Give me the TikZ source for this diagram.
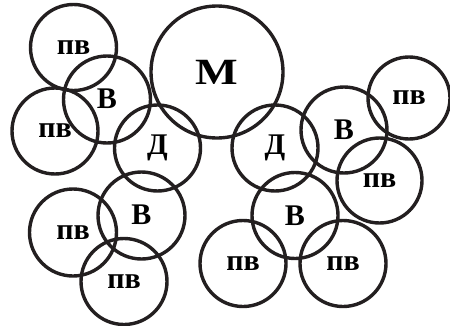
\documentclass[tikz,border=0pt]{standalone}
\usepackage{fontspec}
\setmainfont{Liberation Serif}
\definecolor{ink}{HTML}{231F20}
\begin{document}
\begin{tikzpicture}[x=1pt,y=1pt,
  circ/.style={draw=ink, line width=3.4pt, circle, inner sep=0pt, minimum size=86pt,
    font=\bfseries\fontsize{30pt}{30pt}\selectfont, text=black},
  big/.style={circ, minimum size=132pt}]
\useasboundingbox (0,0) rectangle (450,325);
% top/left group
\node[circ] (pv1) at (73.5,277.5) {пв};
\node[circ] (pv2) at (55,194) {пв};
\node[circ, minimum size=87pt] (v1) at (107,225.5) {\raisebox{2pt}{В}};
\node[big] (m) at (217,253) {\scalebox{1.22}[1]{\fontsize{37pt}{37pt}\selectfont М}};
\node[circ] (d1) at (157.5,177) {Д};
\node[circ] (d2) at (275,177) {Д};
% right group
\node[circ] (v2) at (344,195) {В};
\node[circ, minimum size=82pt] (pv3) at (409,227) {пв};
\node[circ, minimum size=85pt] (pv4) at (379.5,144.5) {пв};
\node[circ] (v3) at (295,109.5) {В};
\node[circ] (pv5) at (243,61.5) {пв};
\node[circ] (pv6) at (343,61.5) {пв};
% bottom left group
\node[circ, minimum size=87pt] (pv7) at (73,92.5) {пв};
\node[circ, minimum size=87pt] (v4) at (141.5,109.5) {\raisebox{2pt}{В}};
\node[circ] (pv8) at (124,43.5) {пв};
\end{tikzpicture}
\end{document}
